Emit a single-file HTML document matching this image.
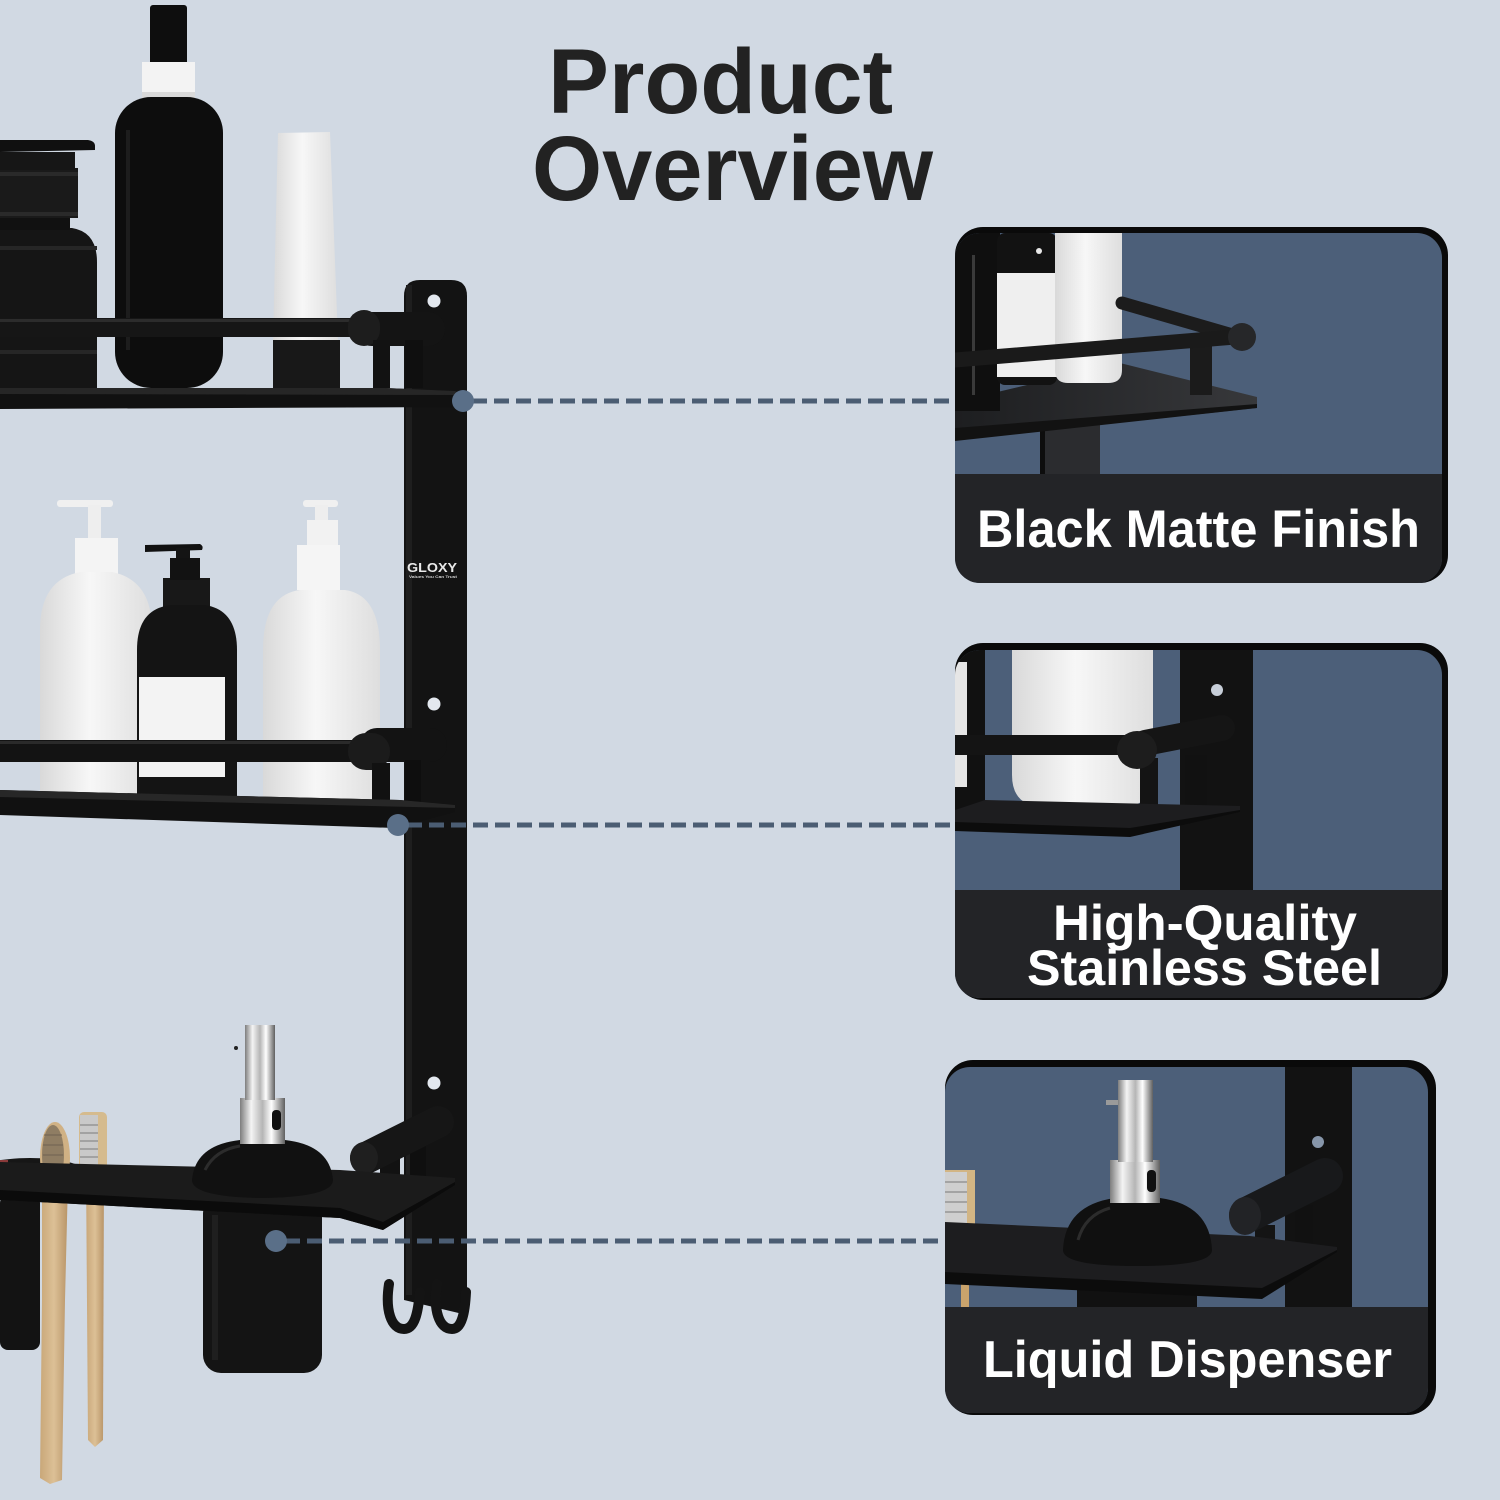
<!DOCTYPE html>
<html>
<head>
<meta charset="utf-8">
<style>
  html, body { margin: 0; padding: 0; background: #d1d9e3; }
  svg { display: block; }
  .t { font-family: "Liberation Sans", Arial, sans-serif; font-weight: bold; }
</style>
</head>
<body>
<svg width="1500" height="1500" viewBox="0 0 1500 1500" xmlns="http://www.w3.org/2000/svg">
  <defs>
    <linearGradient id="chrome" x1="0" y1="0" x2="1" y2="0">
      <stop offset="0" stop-color="#7d7d7d"/>
      <stop offset="0.25" stop-color="#f4f4f4"/>
      <stop offset="0.5" stop-color="#b5b5b5"/>
      <stop offset="0.7" stop-color="#ffffff"/>
      <stop offset="1" stop-color="#5f5f5f"/>
    </linearGradient>
    <linearGradient id="white" x1="0" y1="0" x2="1" y2="0">
      <stop offset="0" stop-color="#d9d9d9"/>
      <stop offset="0.45" stop-color="#f7f7f7"/>
      <stop offset="1" stop-color="#dedede"/>
    </linearGradient>
    <linearGradient id="wood" x1="0" y1="0" x2="1" y2="0">
      <stop offset="0" stop-color="#c9a779"/>
      <stop offset="0.5" stop-color="#dcc096"/>
      <stop offset="1" stop-color="#b89467"/>
    </linearGradient>
    <linearGradient id="plate1" x1="0" y1="0" x2="1" y2="0">
      <stop offset="0" stop-color="#1d1e20"/>
      <stop offset="1" stop-color="#37383b"/>
    </linearGradient>
    <clipPath id="c1"><rect x="955" y="233" width="487" height="350" rx="25"/></clipPath>
    <clipPath id="c2"><rect x="955" y="650" width="487" height="348" rx="25"/></clipPath>
    <clipPath id="c3"><rect x="945" y="1067" width="483" height="346" rx="25"/></clipPath>
  </defs>

  <rect x="0" y="0" width="1500" height="1500" fill="#d1d9e3"/>

  <!-- Title -->
  <text class="t" x="548" y="113" font-size="92" fill="#222222" textLength="345" lengthAdjust="spacingAndGlyphs">Product</text>
  <text class="t" x="532" y="200" font-size="92" fill="#222222" textLength="401" lengthAdjust="spacingAndGlyphs">Overview</text>

  <!-- ===== Wall panel ===== -->
  <path d="M404,296 Q404,280 420,280 L451,280 Q467,280 467,296 L467,1315 L404,1300 Z" fill="#131313"/>
  <rect x="406" y="285" width="6" height="1010" fill="#1e1e1e"/>
  <circle cx="434" cy="301" r="6.5" fill="#e3e8ef"/>
  <circle cx="434" cy="704" r="6.5" fill="#e3e8ef"/>
  <circle cx="434" cy="1083" r="6.5" fill="#e3e8ef"/>
  <text class="t" x="407" y="572" font-size="13" fill="#e9e9e9" textLength="50" lengthAdjust="spacingAndGlyphs">GLOXY</text>
  <text class="t" x="409" y="578" font-size="4" fill="#cfcfcf" textLength="48" lengthAdjust="spacingAndGlyphs">Values You Can Trust</text>

  <!-- Hooks -->
  <path d="M389,1284 C385,1310 391,1329 404,1329 C415,1329 418,1312 420,1292" fill="none" stroke="#141414" stroke-width="10" stroke-linecap="round"/>
  <path d="M437,1284 C433,1310 439,1329 452,1329 C462,1329 465,1312 466,1292" fill="none" stroke="#141414" stroke-width="10" stroke-linecap="round"/>

  <!-- ===== Top shelf ===== -->
  <path d="M0,228 L72,228 Q97,232 97,262 L97,388 L0,388 Z" fill="#151515"/>
  <rect x="0" y="168" width="78" height="50" fill="#1a1a1a"/>
  <rect x="0" y="172" width="78" height="4" fill="#2a2a2a"/>
  <rect x="0" y="212" width="78" height="4" fill="#2a2a2a"/>
  <rect x="0" y="218" width="70" height="12" fill="#111"/>
  <rect x="0" y="152" width="75" height="18" fill="#161616"/>
  <path d="M0,140 L88,140 Q95,141 95,146 L95,150 L0,152 Z" fill="#101010"/>
  <rect x="0" y="246" width="97" height="4" fill="#262626"/>
  <rect x="0" y="350" width="97" height="4" fill="#262626"/>
  <rect x="150" y="5" width="37" height="60" rx="3" fill="#0e0e0e"/>
  <rect x="142" y="62" width="53" height="38" fill="#f3f3f3"/>
  <rect x="142" y="92" width="53" height="8" fill="#d9d9d9"/>
  <rect x="115" y="97" width="108" height="291" rx="36" fill="#0d0d0d"/>
  <rect x="126" y="130" width="4" height="220" fill="#1d1d1d"/>
  <path d="M278,133 L330,132 L338,340 L273,340 Z" fill="url(#white)"/>
  <rect x="273" y="340" width="67" height="48" fill="#181818"/>
  <rect x="355" y="312" width="90" height="34" rx="17" fill="#141414"/>
  <rect x="0" y="318" width="360" height="19" fill="#161616"/>
  <rect x="0" y="319" width="360" height="3" fill="#2c2c2c"/>
  <rect x="348" y="310" width="32" height="36" rx="16" fill="#1d1d1d"/>
  <rect x="373" y="340" width="17" height="48" fill="#121212"/>
  <rect x="405" y="340" width="18" height="48" fill="#0f0f0f"/>
  <polygon points="0,388 385,388 455,391 463,395 455,407 0,409" fill="#111111"/>
  <polygon points="0,388 385,388 455,391 463,395 0,394" fill="#262626"/>

  <!-- ===== Middle shelf ===== -->
  <rect x="57" y="500" width="56" height="7" rx="3" fill="#f0f0f0"/>
  <rect x="88" y="505" width="13" height="35" fill="#eeeeee"/>
  <rect x="75" y="538" width="43" height="37" fill="#f4f4f4"/>
  <path d="M40,797 L40,630 Q40,580 80,572 L112,572 Q152,580 152,630 L152,797 Z" fill="url(#white)"/>
  <rect x="303" y="500" width="35" height="7" rx="3" fill="#f0f0f0"/>
  <rect x="315" y="505" width="13" height="17" fill="#eeeeee"/>
  <rect x="307" y="520" width="31" height="27" fill="#f2f2f2"/>
  <rect x="297" y="545" width="43" height="45" fill="#f5f5f5"/>
  <path d="M263,805 L263,650 Q263,595 300,590 L345,590 Q380,595 380,650 L380,805 Z" fill="url(#white)"/>
  <path d="M145,545 L200,544 Q204,546 202,550 L145,552 Z" fill="#111"/>
  <rect x="176" y="548" width="14" height="12" fill="#141414"/>
  <rect x="163" y="578" width="47" height="30" fill="#181818"/>
  <rect x="170" y="558" width="30" height="22" fill="#121212"/>
  <path d="M137,807 L137,650 Q137,608 172,605 L205,605 Q237,610 237,650 L237,807 Z" fill="#141414"/>
  <rect x="139" y="677" width="86" height="100" fill="#f3f3f3"/>
  <rect x="360" y="728" width="87" height="34" rx="17" fill="#131313"/>
  <rect x="0" y="740" width="360" height="22" fill="#131313"/>
  <rect x="0" y="741" width="360" height="3" fill="#2a2a2a"/>
  <rect x="348" y="733" width="42" height="37" rx="18" fill="#1b1b1b"/>
  <rect x="372" y="763" width="18" height="50" fill="#111"/>
  <rect x="405" y="760" width="16" height="45" fill="#0e0e0e"/>
  <polygon points="0,790 400,800 455,805 455,812 395,828 0,815" fill="#111111"/>
  <polygon points="0,790 400,800 455,805 455,808 0,797" fill="#272727"/>

  <!-- ===== Bottom shelf ===== -->
  <rect x="0" y="1195" width="40" height="155" rx="8" fill="#131313"/>
  <ellipse cx="30" cy="1172" rx="55" ry="14" fill="#161616"/>
  <rect x="0" y="1160" width="8" height="8" fill="#8a3a3a"/>
  <path d="M86,1168 L104,1168 L103,1440 L95,1447 L88,1440 Z" fill="url(#wood)"/>
  <rect x="79" y="1112" width="28" height="60" rx="5" fill="#d5bb8e"/>
  <rect x="80" y="1115" width="18" height="55" fill="#c9c9c9"/>
  <g stroke="#8c8c8c" stroke-width="1.2">
    <line x1="80" y1="1125" x2="98" y2="1125"/><line x1="80" y1="1133" x2="98" y2="1133"/>
    <line x1="80" y1="1141" x2="98" y2="1141"/><line x1="80" y1="1149" x2="98" y2="1149"/>
    <line x1="80" y1="1157" x2="98" y2="1157"/>
  </g>
  <path d="M42,1180 L68,1180 L65,1300 L62,1480 L50,1484 L40,1478 L42,1300 Z" fill="url(#wood)"/>
  <ellipse cx="55" cy="1158" rx="15" ry="36" fill="#d0b184"/>
  <ellipse cx="53" cy="1155" rx="11" ry="30" fill="#8f7d63"/>
  <g stroke="#6f6150" stroke-width="1">
    <line x1="44" y1="1135" x2="62" y2="1135"/><line x1="43" y1="1145" x2="63" y2="1145"/>
    <line x1="43" y1="1155" x2="63" y2="1155"/><line x1="43" y1="1165" x2="63" y2="1165"/>
    <line x1="44" y1="1175" x2="62" y2="1175"/>
  </g>
  <rect x="203" y="1195" width="119" height="178" rx="18" fill="#141414"/>
  <rect x="212" y="1215" width="6" height="145" fill="#1f1f1f"/>
  <rect x="380" y="1150" width="20" height="65" fill="#121212"/>
  <rect x="410" y="1140" width="16" height="50" fill="#0f0f0f"/>
  <line x1="366" y1="1158" x2="438" y2="1122" stroke="#161616" stroke-width="32" stroke-linecap="round"/>
  <ellipse cx="364" cy="1158" rx="14" ry="16" fill="#1f1f1f"/>
  <polygon points="0,1162 340,1170 455,1178 455,1185 383,1230 340,1218 0,1200" fill="#1b1b1b"/>
  <polygon points="0,1190 340,1208 383,1222 455,1182 455,1185 383,1230 340,1218 0,1200" fill="#0b0b0b"/>
  <path d="M192,1180 Q195,1145 240,1140 L285,1140 Q330,1145 333,1180 Q333,1197 262,1198 Q192,1197 192,1180 Z" fill="#111"/>
  <path d="M205,1170 Q215,1150 240,1146" fill="none" stroke="#2c2c2c" stroke-width="3"/>
  <rect x="240" y="1098" width="45" height="46" fill="url(#chrome)"/>
  <rect x="272" y="1110" width="9" height="20" rx="4" fill="#111"/>
  <rect x="245" y="1025" width="30" height="75" fill="url(#chrome)"/>
  <circle cx="236" cy="1048" r="2" fill="#222"/>

  <!-- ===== Connectors ===== -->
  <g stroke="#4b5d73" stroke-width="5" stroke-dasharray="15 7">
    <line x1="472" y1="401" x2="955" y2="401"/>
    <line x1="407" y1="825" x2="955" y2="825"/>
    <line x1="285" y1="1241" x2="945" y2="1241"/>
  </g>
  <circle cx="463" cy="401" r="11" fill="#5a6f88"/>
  <circle cx="398" cy="825" r="11" fill="#5a6f88"/>
  <circle cx="276" cy="1241" r="11" fill="#5a6f88"/>

  <!-- ===== Card 1 ===== -->
  <rect x="955" y="227" width="493" height="356" rx="28" fill="#0a0a0a"/>
  <g clip-path="url(#c1)">
    <rect x="955" y="233" width="487" height="350" fill="#4c5f79"/>
    <rect x="1040" y="420" width="60" height="54" fill="#2b2c2f"/>
    <rect x="1040" y="420" width="5" height="54" fill="#0d0d0d"/>
    <polygon points="955,402 1120,363 1257,397 1257,408 955,440" fill="url(#plate1)"/>
    <polygon points="955,428 1257,404 1257,408 955,441" fill="#121212"/>
    <rect x="955" y="233" width="45" height="178" fill="#0f0f0f"/>
    <rect x="972" y="255" width="3" height="140" fill="#3a3a3a"/>
    <rect x="997" y="233" width="60" height="152" rx="8" fill="#121212"/>
    <circle cx="1039" cy="251" r="3" fill="#e8e8e8"/>
    <rect x="997" y="273" width="65" height="104" fill="#efefef"/>
    <path d="M1055,233 L1122,233 L1122,370 Q1122,383 1108,383 L1068,383 Q1055,383 1055,370 Z" fill="url(#white)"/>
    <line x1="1122" y1="303" x2="1236" y2="336" stroke="#1c1c1c" stroke-width="13" stroke-linecap="round"/>
    <rect x="1190" y="345" width="22" height="50" fill="#1b1b1b"/>
    <line x1="955" y1="360" x2="1235" y2="337" stroke="#1a1a1a" stroke-width="15" stroke-linecap="round"/>
    <circle cx="1242" cy="337" r="14" fill="#262729"/>
    <rect x="955" y="474" width="487" height="110" fill="#232427"/>
  </g>
  <text class="t" x="977" y="547" font-size="53" fill="#ffffff" textLength="443" lengthAdjust="spacingAndGlyphs">Black Matte Finish</text>

  <!-- ===== Card 2 ===== -->
  <rect x="955" y="643" width="493" height="357" rx="28" fill="#0a0a0a"/>
  <g clip-path="url(#c2)">
    <rect x="955" y="650" width="487" height="348" fill="#4c5f79"/>
    <rect x="1180" y="650" width="73" height="240" fill="#121212"/>
    <circle cx="1217" cy="690" r="6" fill="#c7ced8"/>
    <rect x="955" y="650" width="30" height="165" fill="#111"/>
    <rect x="955" y="662" width="12" height="125" fill="#e6e6e6"/>
    <path d="M1012,650 L1153,650 L1153,775 Q1153,807 1120,807 L1045,807 Q1012,807 1012,775 Z" fill="url(#white)"/>
    <line x1="1145" y1="743" x2="1222" y2="728" stroke="#151515" stroke-width="26" stroke-linecap="round"/>
    <rect x="1140" y="758" width="18" height="55" fill="#141414"/>
    <rect x="1185" y="755" width="22" height="50" fill="#111"/>
    <rect x="955" y="735" width="185" height="20" fill="#141414"/>
    <ellipse cx="1137" cy="750" rx="20" ry="19" fill="#1d1d1d"/>
    <polygon points="955,810 985,800 1240,806 1240,812 1130,836 955,830" fill="#1d1d1f"/>
    <polygon points="955,822 1130,828 1240,810 1240,812 1130,837 955,831" fill="#0c0c0c"/>
    <rect x="955" y="890" width="487" height="110" fill="#232427"/>
  </g>
  <text class="t" x="1053" y="940" font-size="50" fill="#ffffff" textLength="304" lengthAdjust="spacingAndGlyphs">High-Quality</text>
  <text class="t" x="1027" y="985" font-size="50" fill="#ffffff" textLength="355" lengthAdjust="spacingAndGlyphs">Stainless Steel</text>

  <!-- ===== Card 3 ===== -->
  <rect x="945" y="1060" width="491" height="355" rx="28" fill="#0a0a0a"/>
  <g clip-path="url(#c3)">
    <rect x="945" y="1067" width="483" height="346" fill="#4c5f79"/>
    <rect x="1285" y="1067" width="67" height="240" fill="#121212"/>
    <circle cx="1318" cy="1142" r="6" fill="#8796aa"/>
    <rect x="945" y="1170" width="30" height="70" fill="#d2b584"/>
    <rect x="945" y="1172" width="22" height="55" fill="#cfcfcf"/>
    <g stroke="#8a8a8a" stroke-width="1.2">
      <line x1="945" y1="1182" x2="967" y2="1182"/><line x1="945" y1="1192" x2="967" y2="1192"/>
      <line x1="945" y1="1202" x2="967" y2="1202"/><line x1="945" y1="1212" x2="967" y2="1212"/>
    </g>
    <rect x="961" y="1280" width="8" height="27" fill="#c9a36c"/>
    <rect x="1077" y="1280" width="120" height="27" fill="#111"/>
    <rect x="1255" y="1225" width="20" height="55" fill="#141414"/>
    <rect x="1295" y="1205" width="18" height="45" fill="#111"/>
    <polygon points="945,1222 1250,1236 1337,1247 1337,1252 1262,1298 945,1283" fill="#1d1d1f"/>
    <polygon points="945,1272 1262,1288 1337,1250 1337,1252 1262,1299 945,1284" fill="#0c0c0c"/>
    <line x1="1247" y1="1215" x2="1325" y2="1176" stroke="#18191b" stroke-width="36" stroke-linecap="round"/>
    <ellipse cx="1245" cy="1216" rx="16" ry="19" fill="#222326"/>
    <path d="M1063,1250 Q1065,1205 1115,1198 L1160,1198 Q1210,1205 1212,1250 Q1212,1266 1137,1266 Q1063,1266 1063,1250 Z" fill="#101010"/>
    <path d="M1078,1240 Q1085,1215 1110,1208" fill="none" stroke="#2c2c2c" stroke-width="3"/>
    <rect x="1110" y="1160" width="50" height="43" fill="url(#chrome)"/>
    <rect x="1147" y="1170" width="9" height="22" rx="4" fill="#111"/>
    <rect x="1118" y="1080" width="35" height="82" fill="url(#chrome)"/>
    <rect x="1106" y="1100" width="12" height="5" fill="#9a9a9a"/>
    <rect x="945" y="1307" width="483" height="110" fill="#232427"/>
  </g>
  <text class="t" x="983" y="1377" font-size="52" fill="#ffffff" textLength="409" lengthAdjust="spacingAndGlyphs">Liquid Dispenser</text>
</svg>
</body>
</html>
